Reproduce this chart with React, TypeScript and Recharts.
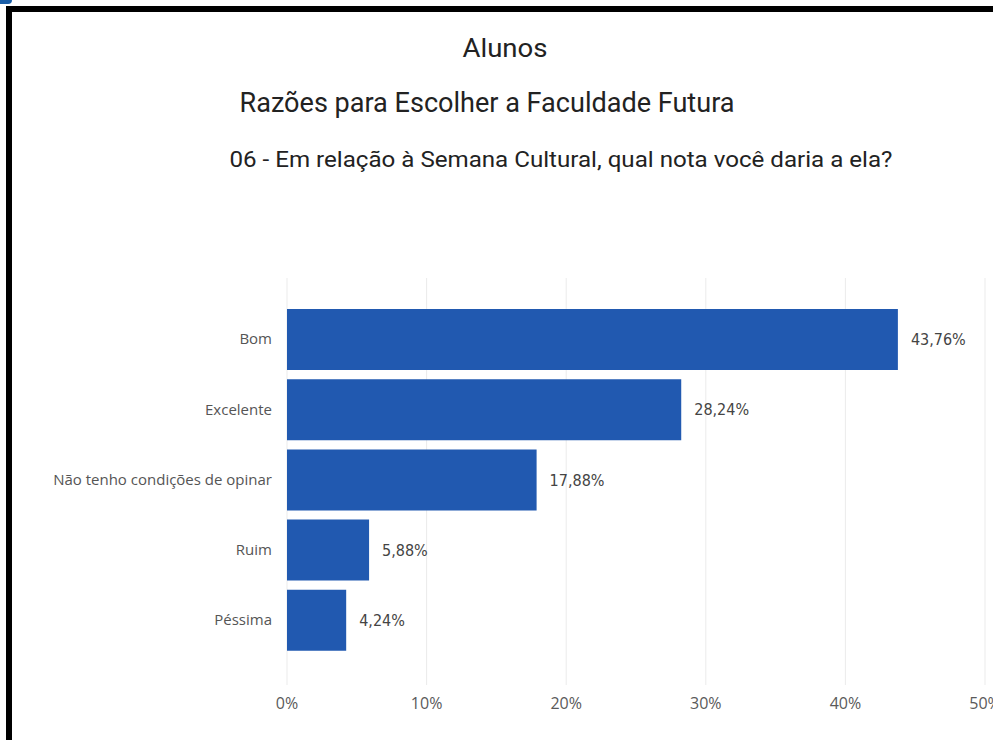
import React from "react";
import { BarChart, Bar, XAxis, YAxis, CartesianGrid, LabelList } from "recharts";

const categories = ["Bom", "Excelente", "Não tenho condições de opinar", "Ruim", "Péssima"];
const percentages = [43.76, 28.24, 17.88, 5.88, 4.24];
const xTicks = [0, 10, 20, 30, 40, 50];
const titleLines = [
  "Alunos",
  "Razões para Escolher a Faculdade Futura",
  "06 - Em relação à Semana Cultural, qual nota você daria a ela?",
];

const data = categories.map((c, i) => ({ name: c, value: percentages[i] }));

const fmtPct = (v: number) => v.toFixed(2).replace(".", ",") + "%";

export default function App() {
  return (
    <div style={{ position: "absolute", left: 0, top: 0, width: 993, height: 740, background: "#fff", overflow: "hidden" }}>
      <BarChart
        width={993}
        height={740}
        data={data}
        layout="vertical"
        margin={{ top: 278, right: 8, bottom: 0, left: 0 }}
      >
        <CartesianGrid horizontal={false} vertical={true} stroke="#ebebeb" strokeWidth={1} />
        <XAxis
          type="number"
          domain={[0, 50]}
          ticks={xTicks}
          tickFormatter={(v: number) => `${v}%`}
          axisLine={false}
          tickLine={false}
          tickSize={0}
          tickMargin={13}
          height={55}
          interval={0}
          tick={{ fill: "#5a5a5a", fontSize: 16, fontFamily: "'Open Sans', sans-serif" }}
        />
        <YAxis
          type="category"
          dataKey="name"
          width={287}
          axisLine={false}
          tickLine={false}
          tickSize={0}
          tickMargin={15}
          padding={{ top: 26, bottom: 30 }}
          interval={0}
          tick={{ fill: "#555", fontSize: 15, fontFamily: "'Open Sans', sans-serif" }}
        />
        <Bar dataKey="value" fill="#2159b0" barSize={61} isAnimationActive={false}>
          <LabelList
            dataKey="value"
            position="right"
            offset={13}
            formatter={(v: any) => fmtPct(Number(v))}
            style={{ fill: "#444", fontSize: 16, fontFamily: "'DejaVu Sans Condensed', 'Roboto', sans-serif" }}
          />
        </Bar>
      </BarChart>
      <svg width={993} height={740} style={{ position: "absolute", left: 0, top: 0, pointerEvents: "none" }}>
        <text x={505} y={57} textAnchor="middle" fontSize={26} fill="#222" fontFamily="Roboto, sans-serif" textLength={85} lengthAdjust="spacingAndGlyphs">{titleLines[0]}</text>
        <text x={487} y={112} textAnchor="middle" fontSize={28} fill="#222" fontFamily="Roboto, sans-serif" textLength={495} lengthAdjust="spacingAndGlyphs">{titleLines[1]}</text>
        <text x={561} y={167} textAnchor="middle" fontSize={22} fill="#222" fontFamily="Roboto, sans-serif" textLength={663} lengthAdjust="spacingAndGlyphs">{titleLines[2]}</text>
      </svg>
      <div style={{ position: "absolute", left: 6, top: 6, width: 1000, height: 760, border: "6px solid #000", boxSizing: "border-box" }} />
      <div style={{ position: "absolute", left: 0, top: 0, width: 12, height: 4, background: "#1a5ea8", borderBottomRightRadius: 4 }} />
    </div>
  );
}
